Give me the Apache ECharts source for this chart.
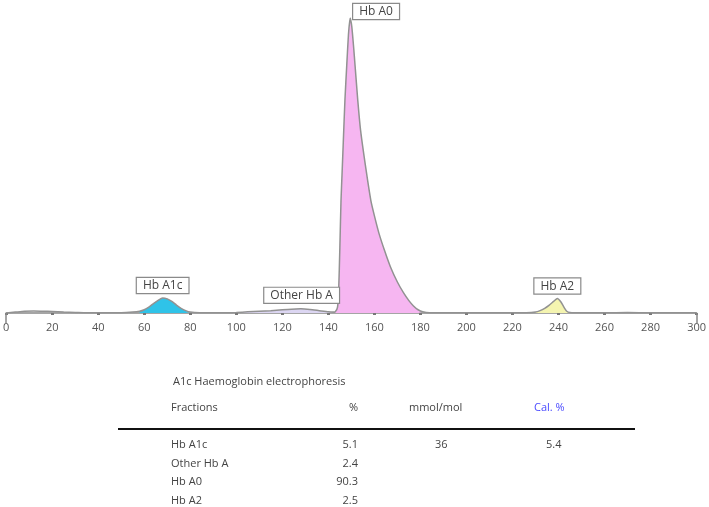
<!DOCTYPE html>
<html>
<head>
<meta charset="utf-8">
<script src="https://cdn.jsdelivr.net/npm/echarts@6/dist/echarts.min.js"></script>
<style>html,body{margin:0;padding:0;background:#fff;}#c{width:709px;height:507px;}</style>
</head>
<body>
<div id="c"></div>
<script>
// ---- data ----
const traceX = [0,4,8,12,16,20,25,30,35,40,45,50,55,58,60,62,64,66,68,70,72,74,76,78,80,84,90,95,100,105,110,115,120,124,128,132,136,140,142,143,144,144.5,145,145.5,146,146.5,147.2,148,148.8,149.5,150.2,151,151.6,152.8,154,156.3,158.5,160,162,164.5,167,170,172.7,175,177,179,181,184,190,200,210,220,226,230,232,234,236,238,239.5,241,242.5,243.6,245,250,260,270,280,290,300];
const traceY = [0,0.3,0.6,0.7,0.6,0.5,0.3,0.2,0.1,0.1,0.1,0.1,0.3,0.6,1.1,2,3.2,4.3,5.1,4.8,3.9,2.7,1.6,0.8,0.3,0.1,0.1,0.1,0.2,0.4,0.6,0.8,1.1,1.3,1.4,1.2,0.8,0.4,0.3,0.4,2,8,22,38,48,58,72,84,95,100,97,90,84,72,62,49,38,33,27,21,15.6,10.5,6.8,4.2,2.4,1.1,0.4,0.1,0.1,0.1,0.1,0.1,0.1,0.3,0.8,1.6,2.7,4,4.9,3.8,1.8,0.6,0.2,0.1,0.1,0.15,0.1,0.1,0.1];
const peakNames = ['Hb A1c','Other Hb A','Hb A0','Hb A2'];
const peakStart = [57,98,143,229];
const peakEnd = [81,142,182,245];
const peakTopX = [68,128.4,149.5,239.5];
const peakTopY = [5.1,1.4,100,4.9];
const peakColors = ['#2fc3e8','#dcd6f2','#f6b6f1','#f4f4b0'];

const tableTitle = 'A1c Haemoglobin electrophoresis';
const headers = ['Fractions','%','mmol/mol','Cal. %'];
const fractions = ['Hb A1c','Other Hb A','Hb A0','Hb A2'];
const percents = ['5.1','2.4','90.3','2.5'];
const mmolmol = ['36','','',''];
const calPct = ['5.4','','',''];

// ---- build ----
const trace = traceX.map((x,i)=>[x,traceY[i]]);
const fillSeries = peakNames.map((n,k)=>({
  type:'line', name:n+' fill', silent:true, symbol:'none', smooth:0.2,
  data: trace.filter(p=>p[0]>=peakStart[k] && p[0]<=peakEnd[k]),
  lineStyle:{width:0}, areaStyle:{color:peakColors[k], opacity:1}, z:1
}));

const FONT = '"Open Sans", sans-serif';
const labelPos = [
  {position:'top', distance:5},
  {position:'top', distance:6},
  {position:[3,-14]},
  {position:'top', distance:5}
];
const markData = peakNames.map((n,k)=>Object.assign({
  name:n, coord:[peakTopX[k], peakTopY[k]], value:n
}, {label:Object.assign({show:true, formatter:n}, labelPos[k])}));

const rowY = [445, 463.5, 482, 500.5];
const txt = (x,y,t,align,color)=>({type:'text', x:x, y:y, style:{text:t, x:0, y:0, textAlign:align, textVerticalAlign:'middle', fill:color||'#444', font:'11px '+FONT}});
const graphics = [];
graphics.push(txt(173,382,tableTitle,'left'));
graphics.push(txt(171,408,headers[0],'left'));
graphics.push(txt(358,408,headers[1],'right'));
graphics.push(txt(409,408,headers[2],'left'));
graphics.push(txt(534,408,headers[3],'left','#4b4bff'));
graphics.push({type:'rect', shape:{x:118,y:428,width:517,height:2}, style:{fill:'#111'}});
fractions.forEach((f,i)=>{
  graphics.push(txt(171,rowY[i],f,'left'));
  graphics.push(txt(358,rowY[i],percents[i],'right'));
  if(mmolmol[i]) graphics.push(txt(435,rowY[i],mmolmol[i],'left'));
  if(calPct[i]) graphics.push(txt(546,rowY[i],calPct[i],'left'));
});

const chart = echarts.init(document.getElementById('c'), null, {renderer:'canvas'});
chart.setOption({
  animation:false,
  grid:{left:4, right:12, top:18, bottom:194, containLabel:false},
  xAxis:[{
    type:'value', min:0, max:300, interval:20,
    axisLine:{lineStyle:{color:'#888', width:1.5}},
    axisTick:{show:true, length:2, lineStyle:{color:'#777', width:3}},
    axisLabel:{color:'#555', fontSize:11, fontFamily:FONT, margin:9},
    splitLine:{show:false}
  },{
    type:'value', min:0, max:300, interval:300, position:'bottom',
    axisLine:{show:false}, axisLabel:{show:false}, splitLine:{show:false},
    axisTick:{show:true, length:10, lineStyle:{color:'#888', width:1.5}}
  }],
  yAxis:{type:'value', min:0, max:100, show:false},
  series: fillSeries.concat([{
    type:'line', name:'trace', symbol:'none', smooth:0.2, data:trace, z:3,
    lineStyle:{color:'#929292', width:1.5},
    markPoint:{
      symbol:'circle', symbolSize:0, silent:true,
      label:{color:'#444', fontSize:12, fontFamily:FONT, backgroundColor:'#fff',
        borderColor:'#8a8a8a', borderWidth:1.2, borderRadius:0, padding:[2,6,1,6]},
      data: markData
    }
  }]),
  graphic: graphics
});
</script>
</body>
</html>
